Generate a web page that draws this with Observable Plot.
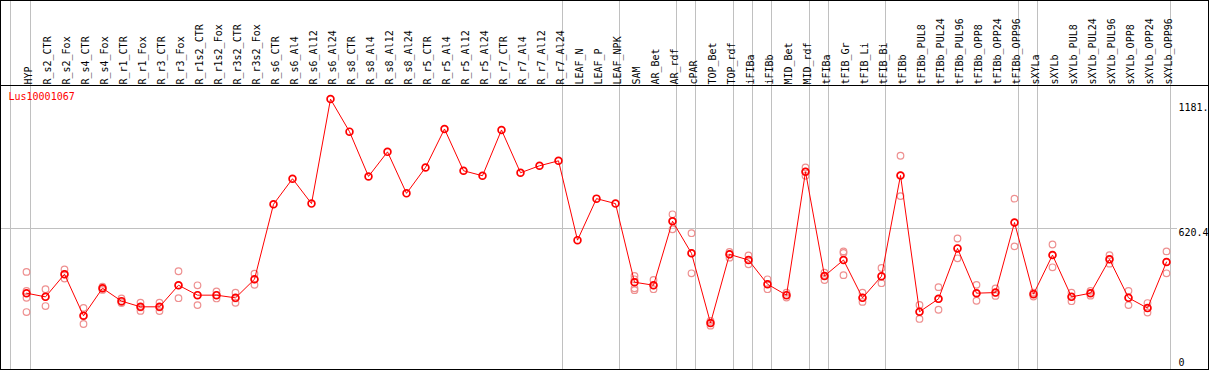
<!DOCTYPE html>
<html>
<head>
<meta charset="utf-8">
<script src="https://cdn.jsdelivr.net/npm/d3@7"></script>
<script src="https://cdn.jsdelivr.net/npm/@observablehq/plot@0.6"></script>
<style>
  html, body { margin: 0; padding: 0; background: #fff; }
  #chart svg { display: block; }
</style>
</head>
<body>
<div id="chart"></div>
<script>
const geneName = "Lus10001067";

const categories = [
  "HYP", "R_s2_CTR", "R_s2_Fox", "R_s4_CTR", "R_s4_Fox", "R_r1_CTR", "R_r1_Fox", "R_r3_CTR", "R_r3_Fox",
  "R_r1s2_CTR", "R_r1s2_Fox", "R_r3s2_CTR", "R_r3s2_Fox",
  "R_s6_CTR", "R_s6_Al4", "R_s6_Al12", "R_s6_Al24",
  "R_s8_CTR", "R_s8_Al4", "R_s8_Al12", "R_s8_Al24",
  "R_r5_CTR", "R_r5_Al4", "R_r5_Al12", "R_r5_Al24",
  "R_r7_CTR", "R_r7_Al4", "R_r7_Al12", "R_r7_Al24",
  "LEAF_N", "LEAF_P", "LEAF_NPK", "SAM", "AR_Bet", "AR_rdf", "cPAR", "TOP_Bet", "TOP_rdf",
  "iFIBa", "iFIBb", "MID_Bet", "MID_rdf", "tFIBa", "tFIB_Gr", "tFIB_Li", "tFIB_Bi",
  "tFIBb", "tFIBb_PUL8", "tFIBb_PUL24", "tFIBb_PUL96", "tFIBb_OPP8", "tFIBb_OPP24", "tFIBb_OPP96",
  "sXYLa", "sXYLb", "sXYLb_PUL8", "sXYLb_PUL24", "sXYLb_PUL96", "sXYLb_OPP8", "sXYLb_OPP24", "sXYLb_OPP96"
];

const means = [
  339.8, 323.8, 421.8, 241.8, 361.4, 305.3, 280.6, 280.6, 374.3, 331.2, 331.2, 319.5, 400.2,
  725.4, 836.3, 728.4, 1181.7, 1040.5, 846.3, 952.9, 772.9,
  885.1, 1052.2, 870.9, 849.3, 1047.9, 862.2, 892.5, 914.0,
  569.9, 750.0, 728.4,
  387.3, 374.3, 652.0, 512.5, 210.3, 508.2, 483.6, 378.7, 331.2, 866.5,
  414.5, 483.6, 319.5, 413.2, 850.6, 259.1, 315.2, 534.1, 339.8, 342.4, 646.3,
  335.5, 505.2, 323.8, 339.8, 486.6, 319.5, 275.0, 474.9
];

const replicates = [
  [432, 350, 320, 258], [357, 324, 284], [443, 422, 403], [276, 242, 206], [368, 361, 354],
  [317, 302, 297], [299, 278, 263], [299, 278, 262], [435, 374, 318], [374, 331, 288],
  [347, 331, 317], [342, 317, 298], [424, 400, 376],
  [], [], [], [], [], [], [], [], [], [], [], [], [], [], [], [], [], [], [],
  [415, 400, 361, 353], [397, 374, 357], [682, 652, 617], [600, 513, 426], [220, 210, 199],
  [519, 508, 494], [504, 484, 465], [400, 379, 357], [342, 331, 321], [885, 867, 849],
  [429, 415, 397], [521, 514, 418], [342, 320, 302], [449, 413, 383], [936, 851, 761],
  [289, 259, 228], [366, 315, 268], [577, 534, 491], [376, 340, 307], [360, 342, 328],
  [750, 646, 543], [342, 336, 325], [551, 505, 452], [342, 324, 305], [350, 340, 329],
  [505, 487, 468], [350, 320, 288], [297, 275, 256], [521, 475, 426]
];

// categories after which a group separator is drawn
const groupEnds = [
  "HYP", "R_r7_Al24", "LEAF_NPK", "AR_rdf", "cPAR", "TOP_rdf", "iFIBa", "iFIBb",
  "MID_rdf", "tFIBa", "tFIB_Bi", "tFIBb_OPP96", "sXYLa", "sXYLb_OPP96"
];

const meanData = categories.map((c, i) => ({cat: c, v: means[i]}));
const repData = categories.flatMap((c, i) => replicates[i].map(v => ({cat: c, v})));

const maxVal = d3.max(means);
const yTop = maxVal * 1.05;
const midVal = yTop / 2;
const maxLabel = String(maxVal).slice(0, 5);
const midLabel = midVal.toFixed(1);

const font = "DejaVu Sans Mono";
const lastCat = categories[categories.length - 1];

const chart = Plot.plot({
  width: 1209,
  height: 370,
  marginTop: 0,
  marginBottom: 0,
  marginLeft: 0,
  marginRight: 0,
  style: {fontFamily: font, fontSize: "10px", background: "white", overflow: "visible"},
  x: {type: "point", domain: categories, range: [26, 1166], padding: 0, align: 0.5, axis: null},
  y: {type: "linear", domain: [0, yTop], range: [371, 85], axis: null},
  marks: [
    // group separators
    Plot.ruleX([categories[0]], {x: d => d, stroke: "#c0c0c0", strokeWidth: 1, dx: -16}),
    Plot.ruleX(groupEnds, {x: d => d, stroke: "#c0c0c0", strokeWidth: 1, dx: 4}),
    // mid gridline
    Plot.ruleY([midVal], {y: d => d, stroke: "#c0c0c0", strokeWidth: 1, insetRight: 32}),
    // header separator line
    Plot.ruleY([yTop], {y: d => d, stroke: "black", strokeWidth: 1}),
    // column labels
    Plot.text(categories, {
      x: d => d, text: d => d, frameAnchor: "top", rotate: -90,
      textAnchor: "start", dy: 84, dx: -1.5, fill: "black",
      fontFamily: font, fontSize: 10
    }),
    // gene name
    Plot.text([geneName], {
      text: d => d, frameAnchor: "top-left", textAnchor: "start", lineAnchor: "top",
      dx: 8, dy: 92.5, fill: "red", fontFamily: font, fontSize: 10
    }),
    // right-hand value labels
    Plot.text([{v: maxVal, t: maxLabel}], {
      x: () => lastCat, y: "v", text: "t",
      textAnchor: "start", lineAnchor: "top", dx: 12, dy: 4.4, fill: "black",
      fontFamily: font, fontSize: 10
    }),
    Plot.text([{v: midVal, t: midLabel}], {
      x: () => lastCat, y: "v", text: "t",
      textAnchor: "start", lineAnchor: "top", dx: 12, dy: 0.5, fill: "black",
      fontFamily: font, fontSize: 10
    }),
    Plot.text([{v: 0, t: "0"}], {
      x: () => lastCat, y: "v", text: "t",
      textAnchor: "start", lineAnchor: "bottom", dx: 12, dy: -5.8, fill: "black",
      fontFamily: font, fontSize: 10
    }),
    // replicate points
    Plot.dot(repData, {x: "cat", y: "v", r: 3.3, stroke: "#ee9090", strokeWidth: 1.2, fill: "none"}),
    // mean line
    Plot.line(meanData, {x: "cat", y: "v", stroke: "red", strokeWidth: 1}),
    // mean points
    Plot.dot(meanData, {x: "cat", y: "v", r: 3.4, stroke: "red", strokeWidth: 1.7, fill: "none"})
  ]
});

chart.style.outline = "1px solid black";
chart.style.outlineOffset = "-1px";
document.getElementById("chart").appendChild(chart);
</script>
</body>
</html>
